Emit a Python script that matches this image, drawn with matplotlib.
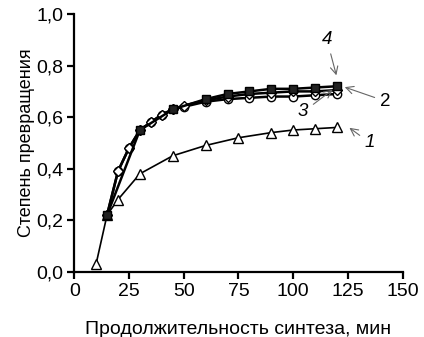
import numpy as np
import matplotlib
matplotlib.use("Agg")
import matplotlib.pyplot as plt
from matplotlib.ticker import FuncFormatter

plt.rcParams.update({"font.family": ["Liberation Sans", "DejaVu Sans"]})

# series 1 (triangles)
t1 = [10, 15, 20, 30, 45, 60, 75, 90, 100, 110, 120]
y1 = [0.03, 0.22, 0.28, 0.38, 0.45, 0.49, 0.52, 0.54, 0.55, 0.555, 0.56]
# series 2 (diamonds) and 3 (circles)
t23 = [15, 20, 25, 30, 35, 40, 45, 50, 60, 70, 80, 90, 100, 110, 120]
y2 = [0.22, 0.39, 0.48, 0.55, 0.58, 0.61, 0.63, 0.645, 0.665, 0.68, 0.69, 0.695, 0.70, 0.70, 0.705]
y3 = [0.22, 0.39, 0.48, 0.55, 0.58, 0.61, 0.63, 0.64, 0.66, 0.67, 0.675, 0.68, 0.68, 0.685, 0.69]
# series 4 (filled squares)
t4 = [15, 30, 45, 60, 70, 80, 90, 100, 110, 120]
y4 = [0.22, 0.55, 0.63, 0.67, 0.69, 0.70, 0.71, 0.71, 0.715, 0.72]

fig = plt.figure(figsize=(4.24, 3.37), dpi=100)
ax = fig.add_axes([0.175, 0.194, 0.775, 0.764])

ax.plot(t1, y1, "-^", color="black", lw=1.2, ms=7, mfc="white", mec="black", mew=1.0)
ax.plot(t23, y3, "-o", color="black", lw=1.8, ms=6, mfc="white", mec="black", mew=1.0)
ax.plot(t23, y2, "-D", color="black", lw=1.8, ms=5.5, mfc="white", mec="black", mew=1.0)
ax.plot(t4, y4, "-s", color="black", lw=1.8, ms=6.3, mfc="#222222", mec="black", mew=1.0)

arr = dict(arrowstyle="->", color="#666666", lw=0.8)
ax.annotate("4", xy=(120, 0.752), xytext=(115.4, 0.90), ha="center", va="center",
            fontsize=13.5, style="italic", arrowprops=arr)
ax.annotate("2", xy=(122.3, 0.72), xytext=(142, 0.662), ha="center", va="center",
            fontsize=13.5, arrowprops=arr)
ax.annotate("3", xy=(119, 0.713), xytext=(104.5, 0.62), ha="center", va="center",
            fontsize=13.5, style="italic", arrowprops=arr)
ax.annotate("1", xy=(124.6, 0.565), xytext=(135, 0.50), ha="center", va="center",
            fontsize=13.5, style="italic", arrowprops=arr)

ax.set_xlim(0, 150)
ax.set_ylim(0, 1.0)
ax.set_xticks(np.arange(0, 151, 25))
ax.set_yticks(np.arange(0, 1.01, 0.2))
ax.yaxis.set_major_formatter(FuncFormatter(lambda v, p: f"{v:.1f}".replace(".", ",")))
for s in ["top", "right"]:
    ax.spines[s].set_visible(False)
for s in ["left", "bottom"]:
    ax.spines[s].set_linewidth(1.6)
ax.tick_params(direction="out", length=5, width=1.6, labelsize=14, pad=3)
ax.set_xlabel("Продолжительность синтеза, мин", fontsize=14, labelpad=15)
ax.set_ylabel("Степень превращения", fontsize=13, labelpad=1)

fig.savefig("out.png", dpi=100)
